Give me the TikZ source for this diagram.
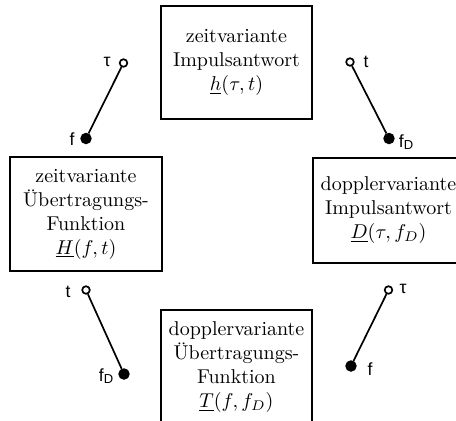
\documentclass[tikz,border=0pt]{standalone}
\usepackage{fontspec}
\newfontfamily\labfont{Liberation Sans}
\begin{document}
\begin{tikzpicture}[x=0.5pt,y=-0.5pt,
  box/.style={draw, line width=0.85pt, align=center, inner sep=0pt, font=\fontsize{10}{12}\selectfont},
  opensw/.style={circle, draw, fill=white, line width=0.85pt, inner sep=0pt, minimum size=3.8pt},
  closedsw/.style={circle, draw, fill=black, line width=0.5pt, inner sep=0pt, minimum size=5.2pt},
  swline/.style={line width=0.85pt},
  lab/.style={font=\labfont\fontsize{8.8}{10}\selectfont, inner sep=0pt}]
\useasboundingbox (0,0) rectangle (456,420);
\clip (0,0) rectangle (456,420);
% boxes
\node[box, minimum width=75.5pt, minimum height=56.5pt] (h) at (236.5,62.5)
  {zeitvariante\\Impulsantwort\\$\underline{h}(\tau,t)$};
\node[box, minimum width=76pt, minimum height=57pt] (H) at (86,214)
  {zeitvariante\\Übertragungs-\\Funktion\\$\underline{H}(f,t)$};
\node[box, minimum width=75.5pt, minimum height=52.5pt] (D) at (388.5,210.5)
  {dopplervariante\\Impulsantwort\\$\underline{D}(\tau,f_D)$};
\node[box, minimum width=75.5pt, minimum height=57pt] (T) at (236.5,367)
  {dopplervariante\\Übertragungs-\\Funktion\\$\underline{T}(f,f_D)$};
% switch top-left
\node[opensw] (a1) at (123.5,63) {};
\node[closedsw] (a2) at (86,138.5) {};
\draw[swline] (a2) -- (a1);
\node[lab] (la1) at (107,62) {τ};
\node[lab] (la2) at (72,139) {f};
% switch top-right
\node[opensw] (b1) at (350,62) {};
\node[closedsw] (b2) at (389,138.5) {};
\draw[swline] (b1) -- (b2);
\node[lab] (lb1) at (366,62) {t};
\node[lab] (lb2) at (406,142) {f\raisebox{-0.25ex}{\fontsize{6.5}{7}\selectfont D}};
% switch bottom-left
\node[opensw] (c1) at (86,290) {};
\node[closedsw] (c2) at (124,374) {};
\draw[swline] (c1) -- (c2);
\node[lab] (lc1) at (68,292) {t};
\node[lab] (lc2) at (106,376) {f\raisebox{-0.25ex}{\fontsize{6.5}{7}\selectfont D}};
% switch bottom-right
\node[opensw] (d1) at (388.5,290) {};
\node[closedsw] (d2) at (351,366) {};
\draw[swline] (d2) -- (d1);
\node[lab] (ld1) at (403,289) {τ};
\node[lab] (ld2) at (370,369) {f};
\end{tikzpicture}
\end{document}
